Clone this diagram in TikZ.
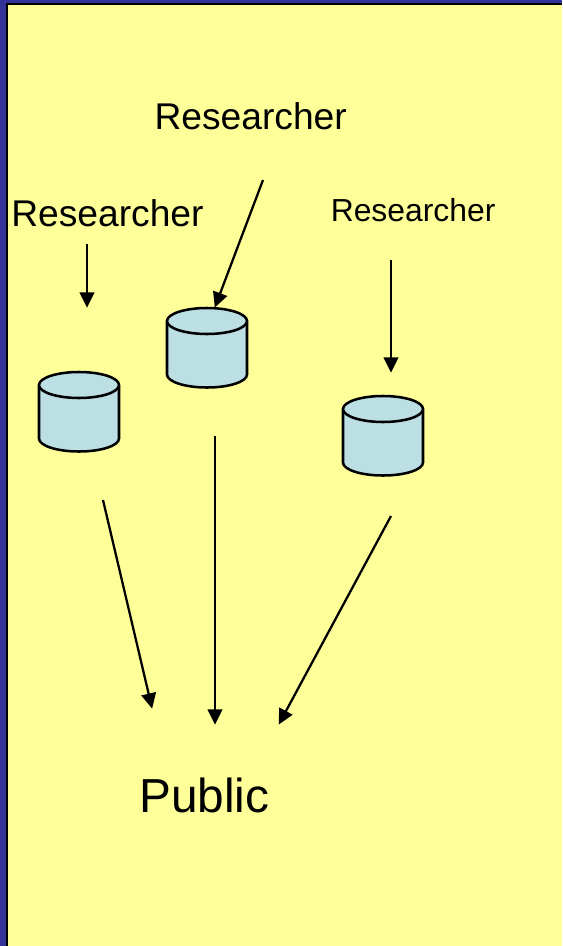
\documentclass[tikz,border=0pt]{standalone}
\usepackage{fontspec}
\setmainfont{Liberation Sans}
\usetikzlibrary{arrows.meta}
\definecolor{slideblue}{HTML}{333399}
\definecolor{slideyellow}{HTML}{FFFF99}
\definecolor{cylfill}{HTML}{BBDFE3}
\newcommand{\cyl}[3]{% centre x, top-ellipse centre y, name
  \filldraw[cylline] (#1-40,#2) -- (#1-40,#2+53.5) arc[start angle=180,end angle=0,x radius=40,y radius=13] -- (#1+40,#2) arc[start angle=0,end angle=-180,x radius=40,y radius=13] -- cycle;
  \draw[cylline] (#1-40,#2) arc[start angle=180,end angle=0,x radius=40,y radius=13];
  \coordinate (#3) at (#1,#2);
}
\tikzset{
  x=0.75pt,y=-0.75pt,
  cylline/.style={draw=black,fill=cylfill,line width=1.9pt},
  arrowline/.style={draw=black,line width=1.7pt,-{Triangle[length=11.5pt,width=11pt]},shorten >=-0.5pt},
  lbl/.style={inner sep=0pt,anchor=base west,text=black}
}
\begin{document}
\begin{tikzpicture}
\useasboundingbox (0,0) rectangle (562,946);
\fill[slideblue] (0,0) rectangle (562,946);
\fill[black] (5.5,3) rectangle (562,946);
\fill[slideyellow] (7.7,5.3) rectangle (562,946);
\node[lbl,font=\fontsize{27.9pt}{30pt}\selectfont] (r1) at (154.3,129.5) {Researcher};
\node[lbl,font=\fontsize{27.9pt}{30pt}\selectfont] (r2) at (11,226.5) {Researcher};
\node[lbl,font=\fontsize{23.9pt}{26pt}\selectfont] (r3) at (330.5,221) {Researcher};
\node[lbl,font=\fontsize{35.8pt}{38pt}\selectfont] (pub) at (139,812.5) {Public};
\cyl{79}{385}{c1}
\cyl{207}{321}{c2}
\cyl{383}{409}{c3}
\coordinate (a1s) at (87,244);  \coordinate (a1e) at (87,307);
\coordinate (a2s) at (263,180); \coordinate (a2e) at (215,307);
\coordinate (a3s) at (391,260); \coordinate (a3e) at (391,372);
\coordinate (a4s) at (103,500); \coordinate (a4e) at (152,708);
\coordinate (a5s) at (215,436); \coordinate (a5e) at (215,724);
\coordinate (a6s) at (391,516); \coordinate (a6e) at (279,724);
\draw[arrowline] (a1s) -- (a1e);
\draw[arrowline] (a2s) -- (a2e);
\draw[arrowline] (a3s) -- (a3e);
\draw[arrowline] (a4s) -- (a4e);
\draw[arrowline] (a5s) -- (a5e);
\draw[arrowline] (a6s) -- (a6e);
\end{tikzpicture}
\end{document}
